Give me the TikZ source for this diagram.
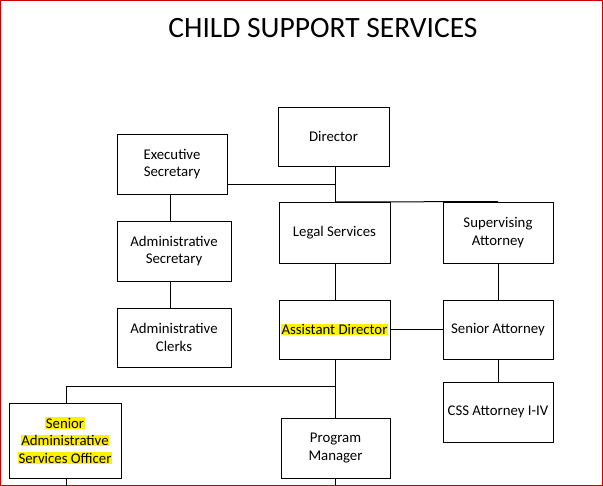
\documentclass[tikz,border=0pt]{standalone}
\usepackage{fontspec}
\setmainfont{Carlito}
\usetikzlibrary{positioning}
\newcommand{\hili}[1]{{\setlength{\fboxsep}{0.5pt}\colorbox{yellow}{#1}}}
\begin{document}
\begin{tikzpicture}[x=1pt, y=-1pt,
    box/.style={rectangle, draw, line width=0.6pt, align=center, font=\fontsize{14.8}{17.5}\selectfont, inner sep=1pt},
    link/.style={draw, line width=0.6pt}]
    \useasboundingbox (0,0) rectangle (603,486);
    \draw[red!80!black, line width=1.2pt] (0.6,0.6) rectangle (602.4,485.4);
    \node[font=\fontsize{29.5}{34}\selectfont] (title) at (323,28) {CHILD SUPPORT SERVICES};

    % boxes
    \node[box, minimum width=111pt, minimum height=59pt] (dir) at (333.5,136.5) {Director};
    \node[box, minimum width=110pt, minimum height=60pt] (exec) at (172,164) {Executive\\Secretary};
    \node[box, minimum width=114pt, minimum height=60pt] (asec) at (174,251) {Administrative\\Secretary};
    \node[box, minimum width=114pt, minimum height=59pt] (aclk) at (174,337.5) {Administrative\\Clerks};
    \node[box, minimum width=111pt, minimum height=61pt] (legal) at (334.5,232.5) {Legal Services};
    \node[box, minimum width=110pt, minimum height=61pt] (sup) at (498,232.5) {Supervising\\Attorney};
    \node[box, minimum width=111pt, minimum height=59pt] (ad) at (334.5,329.5) {\hili{Assistant Director}};
    \node[box, minimum width=110pt, minimum height=59pt] (satt) at (498,329.5) {Senior Attorney};
    \node[box, minimum width=110pt, minimum height=60pt] (css) at (498,412) {CSS Attorney I-IV};
    \node[box, minimum width=112pt, minimum height=75pt] (saso) at (65,440.5) {\hili{Senior}\\\hili{Administrative}\\\hili{Services Officer}};
    \node[box, minimum width=109pt, minimum height=60pt] (pm) at (335.5,448) {Program\\Manager};
    \coordinate (hub) at (335,202);
    \coordinate (split) at (335,386);

    % connectors
    \draw[link] (dir.south -| hub) -- (hub);
    \draw[link] (exec.east |- 0,184) -- (335,184);
    \draw[link, line width=1pt] (hub) -- (sup.north west) -- (sup.north);
    \draw[link] (exec.south -| 170,0) -- (asec.north -| 170,0);
    \draw[link] (asec.south -| 170,0) -- (aclk.north -| 170,0);
    \draw[link] (legal.south -| hub) -- (ad.north -| hub);
    \draw[link] (ad.east) -- (satt.west);
    \draw[link] (sup) -- (satt);
    \draw[link] (satt) -- (css);
    \draw[link] (ad.south -| hub) -- (split);
    \draw[link] (split) -- (66,386) -- (saso.north -| 66,0);
    \draw[link] (split) -- (pm.north -| split);
    \draw[link] (saso.south -| 66,0) -- (66,486);
    \draw[link] (pm.south -| split) -- (335,486);
\end{tikzpicture}
\end{document}
